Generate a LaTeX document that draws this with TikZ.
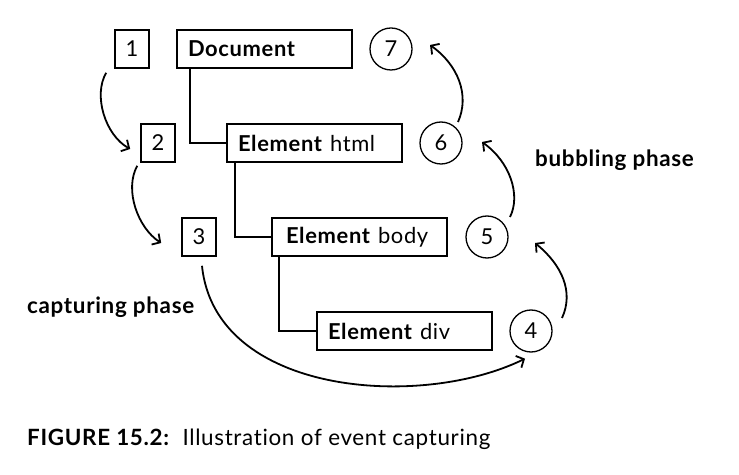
\documentclass[tikz,border=0pt]{standalone}
\usepackage{fontspec}
\setmainfont{Lato}[LetterSpace=3,Ligatures=NoCommon]
\usetikzlibrary{arrows.meta}
\begin{document}
\begin{tikzpicture}[x=1bp,y=-1bp,
  every node/.style={font=\fontsize{22}{26}\selectfont},
  numbox/.style={draw,line width=1.6bp,minimum width=34bp,minimum height=38bp,inner sep=0pt},
  elbox/.style={draw,line width=1.3bp,minimum width=175bp,minimum height=38bp,text width=153bp,inner xsep=11bp,inner ysep=0pt,align=left},
  numcirc/.style={draw,circle,line width=1.3bp,minimum size=42bp,inner sep=0pt},
  tree/.style={line width=1.8bp},
  arr/.style={line width=1.8bp,-{Straight Barb[length=6bp,width=13bp,line width=1.8bp]}},
  lbl/.style={anchor=base west,inner sep=0pt,font=\fontsize{22.5}{26}\selectfont\bfseries}]
\useasboundingbox (0,0) rectangle (739,475);
% number boxes
\node[numbox] (b1) at (132,49) {1};
\node[numbox] (b2) at (158,143) {2};
\node[numbox] (b3) at (199,237) {3};
% element boxes
\node[elbox] (doc) at (264.5,49) {\textbf{Document}};
\node[elbox] (html) at (314.5,143) {\textbf{Element} html};
\node[elbox] (body) at (359.5,237) {\hspace*{3bp}\textbf{Element} body};
\node[elbox] (div) at (404.5,331) {\textbf{Element} div};
% circles
\node[numcirc] (c7) at (391,49) {7};
\node[numcirc] (c6) at (441,143) {6};
\node[numcirc] (c5) at (487,237) {5};
\node[numcirc] (c4) at (531,331) {4};
% tree lines
\draw[tree] ([xshift=14bp]doc.south west) |- (html.west);
\draw[tree] ([xshift=9bp]html.south west) |- (body.west);
\draw[tree] ([xshift=8bp]body.south west) |- (div.west);
% capturing arrows
\draw[arr] ([shift={(-8,4)}]b1.south west) .. controls (93,95) and (105,135) .. ([shift={(-10,6)}]b2.west);
\draw[arr] ([shift={(-3,3)}]b2.south west) .. controls (124,190) and (138,228) .. ([shift={(-20,6)}]b3.west);
\draw[arr] ([shift={(3,9)}]b3.south) .. controls (215,395) and (420,410) .. ([shift={(-6,6)}]c4.south);
% bubbling arrows
\draw[arr] ([shift={(31,-13)}]c4.center) .. controls (574,292) and (562,265) .. ([shift={(48,6)}]c5.center);
\draw[arr] ([shift={(23,-20)}]c5.center) .. controls (521,195) and (510,162) .. ([shift={(41,-1)}]c6.center);
\draw[arr] ([shift={(17,-21)}]c6.center) .. controls (470,95) and (458,65) .. ([shift={(39,-4)}]c7.center);
% labels
\node[lbl] (bub) at (535,167) {bubbling phase};
\node[lbl] (cap) at (27,314) {capturing phase};
\node[anchor=base west,inner sep=0pt,font=\fontsize{22.5}{26}\selectfont] (fig) at (27,445) {\textbf{FIGURE 15.2:}\ \ Illustration of event capturing};
\end{tikzpicture}
\end{document}
